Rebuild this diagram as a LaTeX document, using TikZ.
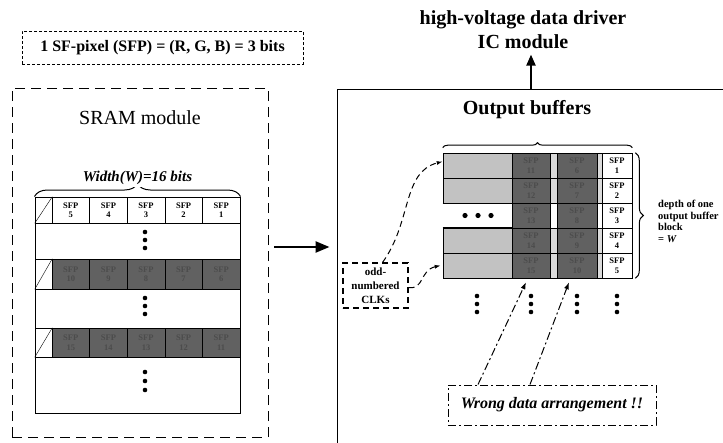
\documentclass[tikz,border=0pt]{standalone}
\usepackage{fontspec}
\setmainfont{Liberation Serif}
\usetikzlibrary{positioning,arrows.meta,decorations.pathreplacing,calc}
\definecolor{BufLight}{gray}{0.76}
\definecolor{BufDark}{gray}{0.38}
\definecolor{BufGap}{gray}{0.86}
\tikzset{
  sfp cell/.style={
    draw,
    line width=0.6pt,
    inner sep=0pt,
    align=center,
    font=\fontsize{8.5}{9.5}\selectfont\bfseries,
    minimum width=37.6pt,
    minimum height=26pt
  },
  sfp dark/.style={sfp cell, fill=BufDark, text=black!70},
  buf light/.style={sfp cell, fill=BufLight, minimum height=25pt},
  buf dark/.style={sfp dark, minimum height=25pt},
  buf gap/.style={sfp cell, fill=BufGap, minimum height=25pt},
  buf sfp/.style={sfp cell, fill=white, minimum height=25pt},
  def box/.style={draw, densely dashed, line width=0.7pt, font=\fontsize{16}{18}\selectfont\bfseries},
  sram box/.style={draw, dash pattern=on 10pt off 6pt, line width=0.9pt},
  title text/.style={font=\fontsize{20}{24}\selectfont},
  head text/.style={font=\fontsize{20}{24}\selectfont\bfseries, align=center},
  width text/.style={font=\fontsize{15}{17}\selectfont\bfseries\itshape, fill=white, inner sep=2pt},
  depth text/.style={font=\fontsize{10.5}{11.5}\selectfont\bfseries, align=left, inner sep=0pt},
  clk box/.style={draw, dash pattern=on 6pt off 4pt, line width=1.1pt, align=center,
    font=\fontsize{11}{14}\selectfont\bfseries, inner sep=0pt},
  wrong box/.style={draw, dash pattern=on 8pt off 3pt on 2pt off 3pt, line width=1pt,
    font=\fontsize{16}{18}\selectfont\bfseries\itshape},
  brace line/.style={decorate, line width=1pt},
  move arrow/.style={-{Triangle[length=14pt,width=11pt]}, line width=2.4pt},
  up arrow/.style={-{Triangle[length=11pt,width=9pt]}, line width=2pt},
  clk arrow/.style={-{Latex[length=6pt,width=4pt]}, dash pattern=on 6pt off 4pt, line width=1pt},
  wrong arrow/.style={-{Latex[length=7pt,width=5pt]}, dash pattern=on 8pt off 3pt on 2pt off 3pt, line width=1pt}
}

\begin{document}
\begin{tikzpicture}[x=1pt,y=-1pt]
\useasboundingbox (0,0) rectangle (723,442);
\clip (0,0) rectangle (723,442);

% SFP definition
\node[def box, minimum width=281pt, minimum height=33pt] (sfpdef) at (162.5,47.5) {1 SF-pixel (SFP) = (R, G, B) = 3 bits};

% SRAM module
\node[sram box, minimum width=256pt, minimum height=349pt] (sram) at (140,262.5) {};
\node[title text] (sramtitle) at (140,118) {SRAM module};
\node[draw, line width=1pt, minimum width=205pt, minimum height=216pt, inner sep=0pt] (sramtab) at (137.5,305) {};
\draw[brace line, decoration={brace, amplitude=13pt}] (sramtab.north west) -- (sramtab.north east);
\node[width text] (wlabel) at (137.5,178) {Width(W)=16 bits};

\node[sfp cell, minimum width=17pt] (s1x) at (43.5,210) {};
\draw (s1x.south west) -- (s1x.north east);
\foreach \n [count=\i from 0] in {5,4,3,2,1}
  \node[sfp cell] (s1c\n) at (70.8+37.6*\i,210) {SFP\\\n};

\node[sfp cell, minimum width=17pt, minimum height=30pt] (s2x) at (43.5,274) {};
\draw (s2x.south west) -- (s2x.north east);
\foreach \n [count=\i from 0] in {10,9,8,7,6}
  \node[sfp dark, minimum height=30pt] (s2c\n) at (70.8+37.6*\i,274) {SFP\\\n};

\node[sfp cell, minimum width=17pt, minimum height=29pt] (s3x) at (43.5,342.5) {};
\draw (s3x.south west) -- (s3x.north east);
\foreach \n [count=\i from 0] in {15,14,13,12,11}
  \node[sfp dark, minimum height=29pt] (s3c\n) at (70.8+37.6*\i,342.5) {SFP\\\n};

\foreach \y in {232,240,248,298,306,314,372,381,390}
  \fill (145,\y) circle (2.3pt);

% output side
\node[draw, line width=1pt, minimum width=403pt, minimum height=371pt, inner sep=0pt] (outbox) at (538.5,274.5) {};
\draw[move arrow] ($(sram.east)+(6,-15.5)$) -- ($(outbox.west)+(-7,-27.5)$);
\node[head text] (hvtext) at (523,30) {high-voltage data driver\\IC module};
\draw[up arrow] ([xshift=8pt]outbox.north -| hvtext.south) -- ([xshift=8pt,yshift=-2pt]hvtext.south);
\node[head text] (obtitle) at (527,110) {Output buffers};

\foreach \r in {1,...,5}{
  \pgfmathsetmacro{\yy}{140.5+25*\r}
  \pgfmathtruncatemacro{\na}{10+\r}
  \pgfmathtruncatemacro{\nb}{5+\r}
  \ifnum\r=3
    \node[sfp cell, draw=none, minimum width=69pt, minimum height=25pt] (lt\r) at (477.5,\yy) {};
    \node[sfp cell, minimum width=7pt, minimum height=25pt] (ga\r) at (553.5,\yy) {};
    \node[sfp cell, minimum width=5pt, minimum height=25pt] (gb\r) at (599.5,\yy) {};
  \else
    \node[buf light, minimum width=69pt] (lt\r) at (477.5,\yy) {};
    \node[buf gap, minimum width=7pt] (ga\r) at (553.5,\yy) {};
    \node[buf gap, minimum width=5pt] (gb\r) at (599.5,\yy) {};
  \fi
  \node[buf dark, minimum width=38pt] (da\r) at (531,\yy) {SFP\\\na};
  \node[buf dark, minimum width=40pt] (db\r) at (577,\yy) {SFP\\\nb};
  \node[buf sfp, minimum width=30pt] (sf\r) at (617,\yy) {SFP\\\r};
}
\draw[line width=0.6pt] (lt2.south west) -- (lt2.south east);
\draw[line width=0.6pt] (lt4.north west) -- (lt4.north east);
\foreach \x in {465,478,491}
  \fill (\x,215.5) circle (2.6pt);

\draw[brace line, decoration={brace, amplitude=5pt}] ([yshift=5pt]lt1.north west) -- ([yshift=5pt]sf1.north east);
\draw[brace line, decoration={brace, amplitude=8pt}] ([xshift=3pt]sf1.north east) -- ([xshift=3pt]sf5.south east);
\node[depth text, anchor=west] (depth) at (658,221.5) {depth of one\\output buffer\\block\\= \textit{W}};

\foreach \x in {477,531,577,617}
  \foreach \y in {296,304,312}
    \fill (\x,\y) circle (2.3pt);

% clocks
\node[clk box, minimum width=65pt, minimum height=45pt] (clk) at (375.5,285.5) {odd-\\numbered\\CLKs};
\draw[clk arrow] ([xshift=7pt]clk.north) .. controls (412,222) and (402,172) .. ([yshift=4pt]lt1.west);
\draw[clk arrow] ([yshift=-2pt]clk.east) .. controls (424,290) and (420,270) .. ([xshift=-2pt]lt5.west);

% wrong arrangement
\node[wrong box, minimum width=208pt, minimum height=40pt] (wrong) at (552,405) {Wrong data arrangement !!};
\draw[wrong arrow] ([xshift=-74pt]wrong.north) -- ([xshift=-5pt,yshift=-4pt]da5.south);
\draw[wrong arrow] ([xshift=-22pt]wrong.north) -- ([xshift=-8pt,yshift=-4pt]db5.south);
\end{tikzpicture}
\end{document}
